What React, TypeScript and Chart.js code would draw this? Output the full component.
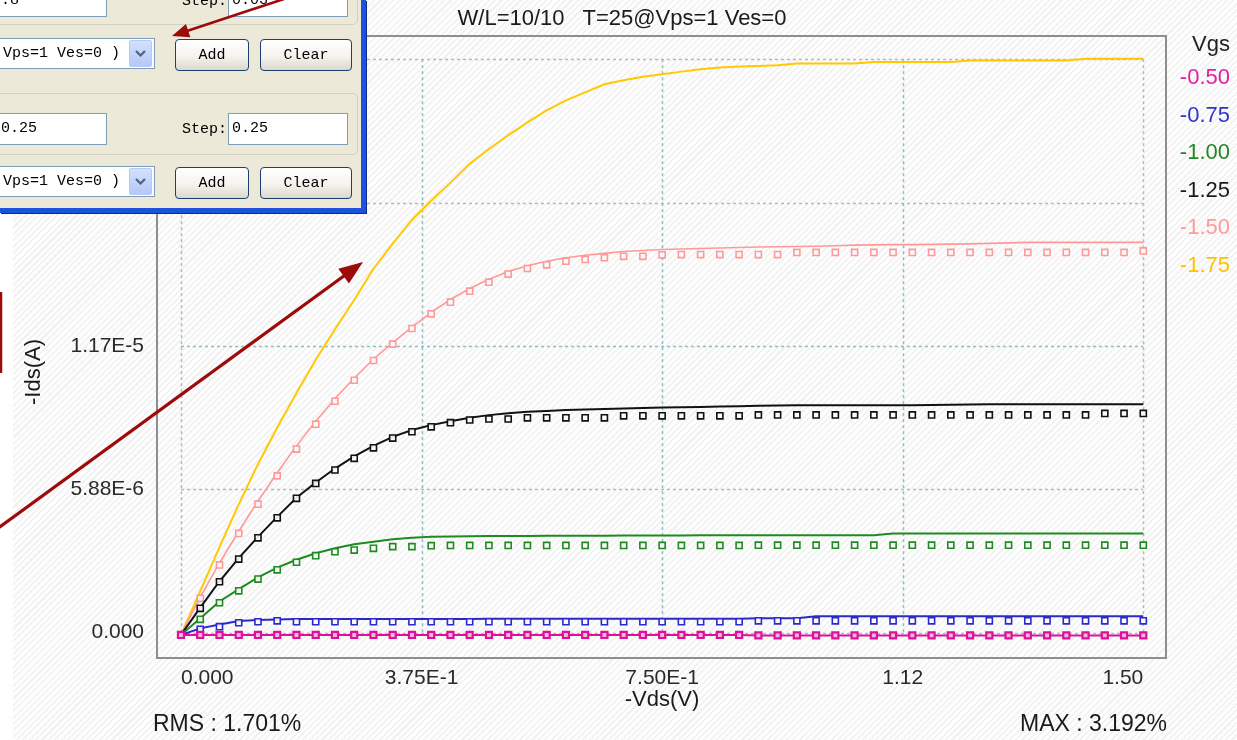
import React, { useEffect, useRef } from 'react';
import { Chart, registerables } from 'chart.js';
Chart.register(...registerables);

// ---------- data (currents in µA, converted to A when plotted) ----------
const VDS = [0, 0.03, 0.06, 0.09, 0.12, 0.15, 0.18, 0.21, 0.24, 0.27, 0.3, 0.33, 0.36, 0.39, 0.42, 0.45, 0.48, 0.51, 0.54, 0.57, 0.6, 0.63, 0.66, 0.69, 0.72, 0.75, 0.78, 0.81, 0.84, 0.87, 0.9, 0.93, 0.96, 0.99, 1.02, 1.05, 1.08, 1.11, 1.14, 1.17, 1.2, 1.23, 1.26, 1.29, 1.32, 1.35, 1.38, 1.41, 1.44, 1.47, 1.5];

const VGS_LABELS = ['-0.50', '-0.75', '-1.00', '-1.25', '-1.50', '-1.75'];

const MAG_MEAS = [-0.1, -0.1, -0.1, -0.1, -0.1, -0.1, -0.1, -0.1, -0.1, -0.1, -0.1, -0.1, -0.1, -0.1, -0.1, -0.1, -0.1, -0.1, -0.1, -0.1, -0.1, -0.1, -0.1, -0.1, -0.1, -0.1, -0.1, -0.1, -0.1, -0.1, -0.12, -0.12, -0.12, -0.12, -0.12, -0.12, -0.12, -0.12, -0.12, -0.12, -0.12, -0.12, -0.12, -0.12, -0.12, -0.12, -0.12, -0.12, -0.12, -0.12, -0.12];
const MAG_SIM = [-0.1, -0.1, -0.1, -0.1, -0.1, -0.1, -0.1, -0.1, -0.1, -0.1, -0.1, -0.1, -0.1, -0.1, -0.1, -0.1, -0.1, -0.1, -0.1, -0.1, -0.1, -0.1, -0.1, -0.1, -0.1, -0.1, -0.1, -0.1, -0.1, -0.1, -0.12, -0.12, -0.12, -0.12, -0.12, -0.12, -0.12, -0.12, -0.12, -0.12, -0.12, -0.12, -0.12, -0.12, -0.12, -0.12, -0.12, -0.12, -0.12, -0.12, -0.12];

const BLUE_MEAS = [-0.1, 0.13, 0.24, 0.40, 0.44, 0.48, 0.44, 0.44, 0.44, 0.44, 0.44, 0.44, 0.44, 0.44, 0.44, 0.44, 0.44, 0.44, 0.44, 0.44, 0.44, 0.44, 0.44, 0.44, 0.44, 0.44, 0.44, 0.44, 0.44, 0.44, 0.48, 0.48, 0.48, 0.48, 0.48, 0.48, 0.48, 0.48, 0.48, 0.48, 0.48, 0.48, 0.48, 0.48, 0.48, 0.48, 0.48, 0.48, 0.48, 0.48, 0.48];
const BLUE_SIM = [-0.1, 0.17, 0.33, 0.47, 0.51, 0.53, 0.55, 0.55, 0.55, 0.55, 0.55, 0.55, 0.55, 0.55, 0.55, 0.55, 0.56, 0.56, 0.56, 0.56, 0.56, 0.56, 0.56, 0.56, 0.56, 0.56, 0.56, 0.56, 0.56, 0.56, 0.58, 0.58, 0.58, 0.67, 0.67, 0.67, 0.67, 0.67, 0.67, 0.67, 0.67, 0.67, 0.67, 0.67, 0.67, 0.67, 0.67, 0.67, 0.67, 0.67, 0.67];

const GREEN_MEAS = [-0.1, 0.54, 1.22, 1.71, 2.19, 2.57, 2.88, 3.15, 3.31, 3.38, 3.45, 3.52, 3.52, 3.56, 3.57, 3.57, 3.57, 3.57, 3.57, 3.57, 3.57, 3.57, 3.57, 3.57, 3.57, 3.57, 3.57, 3.57, 3.57, 3.57, 3.58, 3.58, 3.58, 3.58, 3.58, 3.58, 3.58, 3.58, 3.58, 3.58, 3.58, 3.58, 3.58, 3.58, 3.58, 3.58, 3.58, 3.58, 3.58, 3.58, 3.58];
const GREEN_SIM = [-0.1, 0.58, 1.27, 1.78, 2.26, 2.66, 2.98, 3.25, 3.45, 3.62, 3.72, 3.82, 3.88, 3.92, 3.94, 3.95, 3.96, 3.96, 3.96, 3.97, 3.97, 3.97, 3.97, 3.98, 3.98, 3.98, 3.98, 3.99, 3.99, 3.99, 3.99, 3.99, 3.99, 3.99, 3.99, 3.99, 3.99, 4.06, 4.06, 4.06, 4.06, 4.06, 4.06, 4.06, 4.06, 4.06, 4.06, 4.06, 4.06, 4.06, 4.06];

const BLACK_MEAS = [-0.1, 0.99, 2.08, 3.01, 3.88, 4.70, 5.50, 6.11, 6.66, 7.14, 7.57, 7.97, 8.23, 8.43, 8.60, 8.71, 8.75, 8.75, 8.80, 8.80, 8.80, 8.80, 8.80, 8.88, 8.88, 8.88, 8.88, 8.88, 8.88, 8.88, 8.92, 8.92, 8.92, 8.92, 8.92, 8.92, 8.92, 8.92, 8.92, 8.92, 8.92, 8.92, 8.92, 8.92, 8.92, 8.92, 8.92, 8.92, 8.98, 8.98, 8.98];
const BLACK_SIM = [-0.1, 1.02, 2.10, 3.05, 3.92, 4.74, 5.52, 6.15, 6.72, 7.22, 7.65, 8.02, 8.30, 8.50, 8.66, 8.80, 8.91, 8.99, 9.05, 9.08, 9.12, 9.14, 9.16, 9.18, 9.20, 9.22, 9.23, 9.24, 9.26, 9.27, 9.29, 9.30, 9.31, 9.31, 9.32, 9.32, 9.32, 9.32, 9.32, 9.33, 9.34, 9.35, 9.36, 9.36, 9.36, 9.36, 9.36, 9.36, 9.36, 9.36, 9.36];

const PINK_MEAS = [-0.1, 1.40, 2.77, 4.06, 5.26, 6.42, 7.52, 8.54, 9.48, 10.34, 11.15, 11.82, 12.46, 13.06, 13.54, 13.99, 14.36, 14.69, 14.92, 15.07, 15.22, 15.29, 15.36, 15.42, 15.42, 15.48, 15.49, 15.49, 15.49, 15.49, 15.49, 15.49, 15.58, 15.58, 15.58, 15.58, 15.58, 15.58, 15.58, 15.58, 15.58, 15.58, 15.58, 15.58, 15.58, 15.58, 15.58, 15.58, 15.58, 15.58, 15.64];
const PINK_SIM = [-0.1, 1.45, 2.85, 4.15, 5.38, 6.55, 7.65, 8.66, 9.58, 10.42, 11.20, 11.88, 12.52, 13.12, 13.65, 14.10, 14.48, 14.80, 15.03, 15.22, 15.36, 15.46, 15.54, 15.62, 15.66, 15.70, 15.72, 15.74, 15.76, 15.78, 15.80, 15.81, 15.82, 15.83, 15.85, 15.88, 15.89, 15.90, 15.90, 15.91, 15.92, 15.93, 15.95, 15.97, 15.99, 15.99, 15.99, 15.99, 15.99, 15.99, 15.99];

const YELLOW_SIM = [-0.1, 1.70, 3.50, 5.25, 6.90, 8.40, 9.82, 11.18, 12.43, 13.63, 14.91, 15.94, 16.91, 17.70, 18.44, 19.21, 19.82, 20.38, 20.91, 21.40, 21.81, 22.14, 22.47, 22.64, 22.78, 22.88, 22.99, 23.09, 23.16, 23.20, 23.22, 23.25, 23.32, 23.32, 23.32, 23.32, 23.38, 23.38, 23.38, 23.38, 23.38, 23.45, 23.45, 23.45, 23.45, 23.45, 23.45, 23.52, 23.52, 23.52, 23.52];

const X_TICKS = [0, 0.375, 0.75, 1.125, 1.5];
const X_TICK_LABELS = ['0.000', '3.75E-1', '7.50E-1', '1.12', '1.50'];
const Y_TICKS = [0, 5.875e-6, 1.175e-5, 1.7625e-5, 2.35e-5];
const Y_TICK_LABELS = ['0.000', '5.88E-6', '1.17E-5', '1.76E-5', '2.35E-5'];

const X_MIN = -0.0374;
const X_MAX = 1.5354;
const Y_MIN = -1.045e-6;
const Y_MAX = 24.45e-6;

const TITLE = 'W/L=10/10   T=25@Vps=1 Ves=0';
const X_TITLE = '-Vds(V)';
const Y_TITLE = '-Ids(A)';
const RMS_TEXT = 'RMS : 1.701%';
const MAX_TEXT = 'MAX : 3.192%';
const LEGEND_TITLE = 'Vgs';

// ---------- styles ----------
const COLORS = ['#dd1199', '#2a2acc', '#1f8a1f', '#111111', '#ff9999', '#ffc800'];
const LEGEND_COLORS = ['#e020a0', '#3333cc', '#228822', '#1a1a1a', '#ff9a9a', '#ffc000'];
const SANS = '"Liberation Sans", Arial, "DejaVu Sans", sans-serif';
const MONO = '"Liberation Mono", "DejaVu Sans Mono", monospace';

const toPts = (ys: number[]) => VDS.map((x, i) => ({ x, y: ys[i] * 1e-6 }));

const gridPlugin = {
  id: 'boxGrid',
  beforeDatasetsDraw(chart: any) {
    const { ctx } = chart;
    const xs = chart.scales.x;
    const ys = chart.scales.y;
    const xl = xs.getPixelForValue(X_TICKS[0]);
    const xr = xs.getPixelForValue(X_TICKS[X_TICKS.length - 1]);
    const yb = ys.getPixelForValue(Y_TICKS[0]);
    const yt = ys.getPixelForValue(Y_TICKS[Y_TICKS.length - 1]);
    ctx.save();
    ctx.lineWidth = 1.5;
    ctx.setLineDash([3, 3]);
    Y_TICKS.forEach((v, i) => {
      const y = Math.round(ys.getPixelForValue(v)) + 0.5;
      ctx.strokeStyle = i === 2 ? '#8cc0c0' : '#b8b8b8';
      ctx.beginPath();
      ctx.moveTo(xl, y);
      ctx.lineTo(xr, y);
      ctx.stroke();
    });
    X_TICKS.forEach((v, i) => {
      const x = Math.round(xs.getPixelForValue(v)) + 0.5;
      ctx.strokeStyle = i === 0 || i === X_TICKS.length - 1 ? '#b8b8b8' : '#8cc0c0';
      ctx.beginPath();
      ctx.moveTo(x, yt);
      ctx.lineTo(x, yb);
      ctx.stroke();
    });
    ctx.restore();
  },
};

const framePlugin = {
  id: 'frame',
  afterDraw(chart: any) {
    const { ctx, chartArea: a } = chart;
    ctx.save();
    ctx.strokeStyle = '#8e8e8e';
    ctx.lineWidth = 2;
    ctx.setLineDash([]);
    ctx.strokeRect(a.left, a.top, a.right - a.left, a.bottom - a.top);
    ctx.restore();
  },
};

function ChartCanvas() {
  const ref = useRef<HTMLCanvasElement | null>(null);
  useEffect(() => {
    if (!ref.current) return;
    const series = [
      { meas: MAG_MEAS, sim: MAG_SIM },
      { meas: BLUE_MEAS, sim: BLUE_SIM },
      { meas: GREEN_MEAS, sim: GREEN_SIM },
      { meas: BLACK_MEAS, sim: BLACK_SIM },
      { meas: PINK_MEAS, sim: PINK_SIM },
      { meas: null, sim: YELLOW_SIM },
    ];
    const datasets: any[] = [];
    series.forEach((s, i) => {
      const c = COLORS[i];
      if (s.meas) {
        datasets.push({
          label: 'meas ' + VGS_LABELS[i],
          data: toPts(s.meas),
          showLine: false,
          pointStyle: 'rect',
          pointRadius: 4.3,
          pointBorderWidth: i === 0 ? 2.2 : 1.6,
          pointBorderColor: c,
          pointBackgroundColor: i === 0 ? '#f4b8e0' : 'rgba(252,252,252,0.9)',
          borderColor: c,
        });
      }
      datasets.push({
        label: 'sim ' + VGS_LABELS[i],
        data: toPts(s.sim),
        borderColor: c,
        borderWidth: i === 4 ? 1.6 : 2,
        pointRadius: 0,
        fill: false,
        tension: 0,
      });
    });

    const chart = new Chart(ref.current, {
      type: 'line',
      data: { datasets },
      options: {
        responsive: false,
        maintainAspectRatio: false,
        animation: false,
        layout: { padding: { left: 0, top: 36, right: 71, bottom: 0 } },
        plugins: {
          legend: { display: false },
          tooltip: { enabled: false },
          title: { display: false },
        },
        scales: {
          x: {
            type: 'linear',
            min: X_MIN,
            max: X_MAX,
            grid: { display: false },
            border: { display: false },
            afterBuildTicks: (s: any) => {
              s.ticks = X_TICKS.map((v) => ({ value: v }));
            },
            afterFit: (s: any) => {
              s.height = 82;
            },
            ticks: {
              autoSkip: false,
              maxRotation: 0,
              minRotation: 0,
              align: 'inner',
              padding: 0,
              color: '#2a2a2a',
              font: { family: SANS, size: 21 },
              callback: (_v: any, i: number) => X_TICK_LABELS[i],
            },
          },
          y: {
            type: 'linear',
            min: Y_MIN,
            max: Y_MAX,
            grid: { display: false },
            border: { display: false },
            afterBuildTicks: (s: any) => {
              s.ticks = Y_TICKS.map((v) => ({ value: v }));
            },
            afterFit: (s: any) => {
              s.width = 157;
            },
            ticks: {
              autoSkip: false,
              padding: 5,
              color: '#2a2a2a',
              font: { family: SANS, size: 21 },
              callback: (_v: any, i: number) => Y_TICK_LABELS[i],
            },
          },
        },
      } as any,
      plugins: [gridPlugin, framePlugin],
    });
    return () => chart.destroy();
  }, []);
  return <canvas ref={ref} width={1237} height={740} style={{ display: 'block', position: 'absolute', left: 0, top: 0 }} />;
}

// ---------- overlay helpers ----------
function Arrow({ x1, y1, x2, y2, w, head, half }: any) {
  const dx = x2 - x1;
  const dy = y2 - y1;
  const len = Math.hypot(dx, dy);
  const ux = dx / len;
  const uy = dy / len;
  const bx = x2 - ux * head;
  const by = y2 - uy * head;
  const nx = -uy;
  const ny = ux;
  const pts = `${x2},${y2} ${bx + nx * half},${by + ny * half} ${bx - nx * half},${by - ny * half}`;
  return (
    <g>
      <line x1={x1} y1={y1} x2={bx + ux * 2} y2={by + uy * 2} stroke="#9c0a0a" strokeWidth={w} />
      <polygon points={pts} fill="#9c0a0a" />
    </g>
  );
}

function TextBox({ left, top, width, height, text, textTop }: any) {
  return (
    <div style={{ position: 'absolute', left, top, width, height, background: '#fff', border: '1px solid #7f9db9', boxSizing: 'border-box' }}>
      <div style={{ position: 'absolute', left: 3, top: textTop, font: `15px ${MONO}`, color: '#000', whiteSpace: 'pre' }}>{text}</div>
    </div>
  );
}

function Combo({ top }: any) {
  return (
    <div style={{ position: 'absolute', left: -3, top, width: 158, height: 31, background: '#fff', border: '1px solid #7f9db9', boxSizing: 'border-box' }}>
      <div style={{ position: 'absolute', left: 5, top: 6, font: `15px ${MONO}`, color: '#000', whiteSpace: 'pre' }}>Vps=1 Ves=0 )</div>
      <div style={{ position: 'absolute', left: 131, top: 1, width: 23, height: 27, boxSizing: 'border-box', border: '1px solid #b6c9f2', borderRadius: 2, background: 'linear-gradient(#d3e0fd, #b4c9f7)' }}>
        <svg width="21" height="25" style={{ position: 'absolute', left: 0, top: 0 }}>
          <polyline points="6,10 10.5,14.5 15,10" fill="none" stroke="#4d6185" strokeWidth="2.2" />
        </svg>
      </div>
    </div>
  );
}

function Button({ left, top, width, label }: any) {
  return (
    <div style={{ position: 'absolute', left, top, width, height: 32, boxSizing: 'border-box', border: '1px solid #1c3f72', borderRadius: 4, background: 'linear-gradient(#ffffff, #f4f3ee 55%, #dcd8cc)', display: 'flex', alignItems: 'center', justifyContent: 'center', font: `15px ${MONO}`, color: '#000' }}>
      {label}
    </div>
  );
}

function Dialog() {
  return (
    <div style={{ position: 'absolute', left: 0, top: 0, width: 361, height: 208, background: '#ece9d8', borderRight: '5px solid #1d52dc', borderBottom: '5px solid #1d52dc', boxShadow: '1px 1px 0 #0b2e8e', overflow: 'hidden', zIndex: 3 }}>
      <div style={{ position: 'absolute', left: -10, top: -40, width: 368, height: 65, border: '1px solid #d3d0c0', borderRadius: 5, boxSizing: 'border-box' }} />
      <TextBox left={-3} top={-15} width={110} height={32} text=".8" textTop={6} />
      <div style={{ position: 'absolute', left: 182, top: -7, font: `15px ${MONO}`, color: '#000' }}>Step:</div>
      <TextBox left={228} top={-15} width={120} height={32} text="0.03" textTop={6} />
      <Combo top={38} />
      <Button left={175} top={39} width={74} label="Add" />
      <Button left={260} top={39} width={92} label="Clear" />

      <div style={{ position: 'absolute', left: -10, top: 93, width: 368, height: 62, border: '1px solid #d3d0c0', borderRadius: 5, boxSizing: 'border-box' }} />
      <TextBox left={-3} top={113} width={110} height={32} text="0.25" textTop={6} />
      <div style={{ position: 'absolute', left: 182, top: 121, font: `15px ${MONO}`, color: '#000' }}>Step:</div>
      <TextBox left={228} top={113} width={120} height={32} text="0.25" textTop={6} />
      <Combo top={166} />
      <Button left={175} top={167} width={74} label="Add" />
      <Button left={260} top={167} width={92} label="Clear" />
    </div>
  );
}

const txt = (extra: any) => ({ position: 'absolute' as const, font: `22px ${SANS}`, color: '#1a1a1a', whiteSpace: 'pre' as const, lineHeight: 1, zIndex: 2, ...extra });

export default function App() {
  const legendTops = [77, 114.5, 152, 189.5, 227, 264.5];
  return (
    <div style={{ position: 'absolute', left: 0, top: 0, width: 1237, height: 740, background: '#ffffff', overflow: 'hidden' }}>
      <div style={{ position: 'absolute', left: 13, top: 0, width: 1224, height: 740, background: 'repeating-linear-gradient(135deg, #fdfdfd 0px, #fdfdfd 3px, #f1f1f1 3px, #f1f1f1 4.5px)' }} />
      <ChartCanvas />
      <div style={txt({ left: 622, top: 18, transform: 'translate(-50%, -50%)' })}>{TITLE}</div>
      <div style={txt({ left: 33, top: 372, transform: 'translate(-50%, -50%) rotate(-90deg)' })}>{Y_TITLE}</div>
      <div style={txt({ left: 662, top: 699, transform: 'translate(-50%, -50%)' })}>{X_TITLE}</div>
      <div style={txt({ left: 153, top: 723, transform: 'translateY(-50%)', fontSize: 23 })}>{RMS_TEXT}</div>
      <div style={txt({ right: 70, top: 723, transform: 'translateY(-50%)', fontSize: 23 })}>{MAX_TEXT}</div>
      <div style={txt({ right: 7, top: 44, transform: 'translateY(-50%)', color: '#222' })}>{LEGEND_TITLE}</div>
      {VGS_LABELS.map((l, i) => (
        <div key={l} style={txt({ right: 7, top: legendTops[i], transform: 'translateY(-50%)', color: LEGEND_COLORS[i] })}>{l}</div>
      ))}
      <Dialog />
      <svg width={1237} height={740} style={{ position: 'absolute', left: 0, top: 0, zIndex: 4, pointerEvents: 'none' }}>
        <Arrow x1={290} y1={-3} x2={172} y2={36} w={2.6} head={17} half={7} />
        <Arrow x1={-3} y1={529} x2={363} y2={262} w={3.2} head={24} half={9} />
        <line x1={1} y1={292} x2={1} y2={373} stroke="#9c0a0a" strokeWidth={2.5} />
      </svg>
    </div>
  );
}
